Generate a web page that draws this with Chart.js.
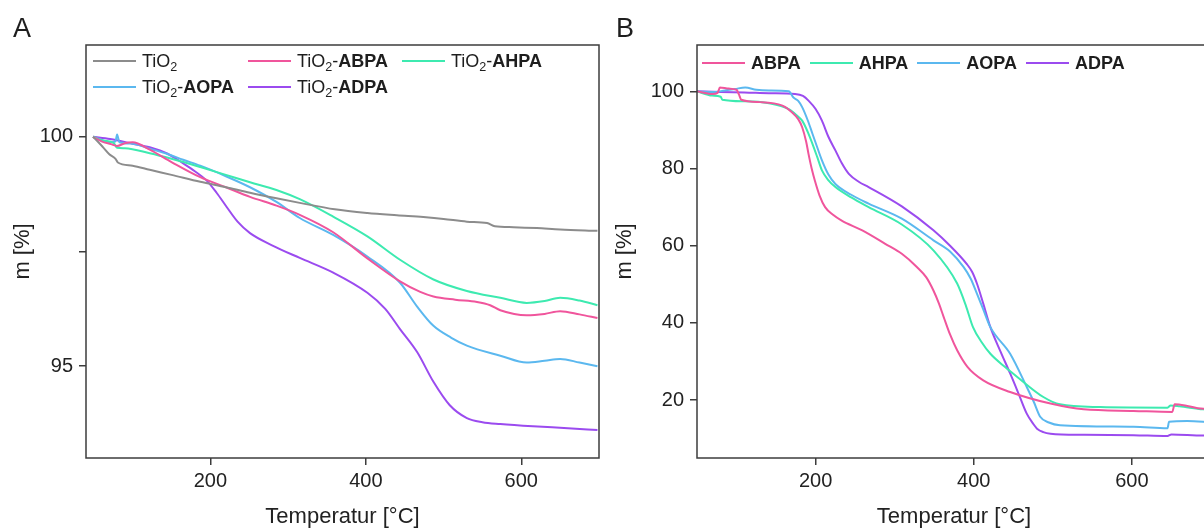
<!DOCTYPE html>
<html>
<head>
<meta charset="utf-8">
<title>TGA TiO2 Phosphonsäuren</title>
<script src="https://cdn.jsdelivr.net/npm/chart.js@4.4.1/dist/chart.umd.min.js"></script>
<style>
  body { margin: 0; width: 1204px; height: 532px; overflow: hidden; position: relative; background: #fff;
         font-family: "Liberation Sans", Arial, sans-serif; color: #1e1e1e; }
  .panel { position: absolute; top: 0; height: 532px; }
  #panelA { left: 0; width: 602px; }
  #panelB { left: 602px; width: 612px; }
  .letter { position: absolute; top: 15px; font-size: 27px; line-height: 27px; }
  .legend-row { position: absolute; height: 22px; display: flex; align-items: center; font-size: 18px; white-space: nowrap; }
  .item { display: flex; align-items: center; }
  .swatch { width: 43px; height: 2px; margin-right: 6px; }
  .txt { display: inline-block; line-height: 22px; }
  sub { font-size: 0.7em; vertical-align: -0.3em; line-height: 0; }
</style>
</head>
<body>
<div class="panel" id="panelA"><canvas id="chartA" width="602" height="532"></canvas></div>
<div class="panel" id="panelB"><canvas id="chartB" width="612" height="532"></canvas></div>
<div class="letter" style="left:13px">A</div>
<div class="letter" style="left:616px">B</div>
<div id="legendA"></div>
<div id="legendB"></div>

<script>
// ---- data: panel A (TiO2 + modified) ----
const tio2_T = [49, 56, 62, 70, 78, 81, 100, 122, 150, 187, 220, 251, 285, 315, 360, 402, 440, 474, 500, 530, 556, 566, 590, 620, 650, 698];
const tio2_m = [100, 99.88, 99.77, 99.62, 99.52, 99.44, 99.37, 99.28, 99.17, 99.02, 98.90, 98.78, 98.66, 98.56, 98.42, 98.34, 98.29, 98.25, 98.21, 98.15, 98.12, 98.05, 98.03, 98.01, 97.98, 97.95];

const abpaA_T = [49, 60, 72, 80, 90, 100, 122, 150, 187, 220, 251, 285, 315, 358, 402, 444, 470, 487, 515, 543, 560, 573, 607, 630, 650, 675, 698];
const abpaA_m = [100, 99.90, 99.84, 99.80, 99.86, 99.88, 99.72, 99.45, 99.12, 98.90, 98.69, 98.50, 98.30, 97.92, 97.35, 96.85, 96.62, 96.52, 96.45, 96.40, 96.33, 96.22, 96.11, 96.14, 96.20, 96.13, 96.05];

const ahpaA_T = [49, 62, 76, 80, 90, 122, 150, 187, 220, 251, 285, 315, 358, 402, 444, 487, 530, 573, 607, 630, 650, 675, 698];
const ahpaA_m = [100, 99.92, 99.86, 99.76, 99.75, 99.64, 99.52, 99.34, 99.17, 99.01, 98.84, 98.64, 98.26, 97.83, 97.32, 96.89, 96.64, 96.49, 96.38, 96.42, 96.49, 96.43, 96.33];

const aopaA_T = [49, 60, 72, 78, 80, 83, 100, 122, 144, 165, 187, 220, 251, 285, 315, 358, 402, 444, 466, 487, 510, 530, 573, 607, 630, 650, 675, 698];
const aopaA_m = [100, 99.93, 99.88, 99.90, 100.05, 99.88, 99.85, 99.74, 99.63, 99.50, 99.37, 99.14, 98.90, 98.58, 98.23, 97.86, 97.39, 96.82, 96.30, 95.88, 95.62, 95.45, 95.23, 95.08, 95.12, 95.16, 95.08, 95.00];

const adpaA_T = [49, 71, 100, 122, 145, 165, 180, 195, 208, 221, 235, 251, 280, 315, 358, 402, 425, 444, 466, 487, 508, 530, 550, 573, 615, 660, 698];
const adpaA_m = [100, 99.95, 99.85, 99.77, 99.63, 99.42, 99.25, 99.05, 98.78, 98.47, 98.15, 97.90, 97.63, 97.36, 97.04, 96.60, 96.25, 95.81, 95.31, 94.66, 94.15, 93.87, 93.78, 93.74, 93.69, 93.65, 93.61];

// ---- data: panel B (pure acids) ----
const abpaB_T = [50, 62, 70, 76, 79, 90, 100, 103, 106, 130, 158, 170, 178, 183, 188, 191, 195, 199, 205, 212, 222, 233, 259, 288, 309, 328, 340, 349, 356, 362, 370, 379, 392, 412, 446, 497, 539, 602, 651, 654, 670, 687, 700];
const abpaB_m = [100, 99.5, 99.3, 99.6, 101, 100.7, 100.4, 99.2, 97.8, 97.2, 96.3, 94.6, 92.8, 90.7, 87, 83.8, 80, 76.9, 73, 70.0, 68, 66.5, 63.96, 60.5, 57.9, 54.5, 51.8, 48.4, 45, 41.5, 37, 32.9, 28.6, 25.1, 22.1, 19.1, 17.6, 17.2, 16.95, 18.9, 18.5, 17.8, 17.6];

const ahpaB_T = [50, 69, 80, 82, 110, 141, 166, 176, 183, 190, 196, 202, 208, 216, 225, 245, 267, 309, 349, 379, 390, 399, 410, 421, 440, 455, 488, 509, 560, 645, 649, 660, 690, 700];
const ahpaB_m = [100, 98.9, 98.6, 97.8, 97.4, 96.9, 95.4, 93.8, 92.4, 89.5, 86.4, 83, 79.5, 77, 75.2, 72.5, 70.0, 65.5, 58.8, 50.2, 44.5, 38.9, 35, 32.0, 28.5, 26.0, 20.8, 18.9, 18.2, 18.05, 18.6, 18.4, 17.6, 17.5];

const aopaB_T = [50, 70, 85, 98, 111, 125, 141, 166, 172, 178, 183, 190, 196, 202, 208, 216, 225, 245, 267, 309, 349, 370, 387, 396, 404, 412, 421, 446, 467, 476, 484, 495, 509, 602, 645, 647, 670, 690, 700];
const aopaB_m = [100, 99.8, 100.2, 100.6, 101, 100.4, 100.2, 100, 98.4, 97.5, 95.9, 92.5, 89.0, 85.5, 82.1, 78.5, 76.0, 73.2, 70.9, 67.0, 61.4, 58.5, 54.5, 51.5, 47.6, 43.5, 38.9, 32.0, 23.4, 19.5, 15.7, 14.2, 13.5, 13.1, 12.7, 14.4, 14.6, 14.4, 14.2];

const adpaB_T = [50, 80, 110, 141, 174, 184, 191, 200, 208, 216, 225, 233, 242, 255, 267, 309, 349, 370, 391, 398, 404, 412, 421, 434, 446, 457, 467, 475, 480, 488, 497, 540, 602, 645, 650, 690, 700];
const adpaB_m = [100, 99.8, 99.7, 99.5, 99.3, 98.8, 97.6, 95.4, 92.4, 88.3, 84.7, 81.4, 78.6, 76.5, 75.2, 70.2, 64.0, 60.0, 55.3, 53.2, 50.2, 45.0, 38.9, 32.5, 26.9, 21.5, 16.5, 13.9, 12.6, 11.7, 11.3, 11.0, 10.9, 10.7, 11.1, 10.8, 10.8];

// ---- axis ticks ----
const xTicks = [200, 400, 600];
const yTicksA = [95, 97.5, 100];
const yTickLabelsA = ['95', '', '100'];
const yTicksB = [20, 40, 60, 80, 100];
const yTickLabelsB = ['20', '40', '60', '80', '100'];

const namesA = ['TiO2', 'TiO2-ABPA', 'TiO2-AHPA', 'TiO2-AOPA', 'TiO2-ADPA'];
const namesB = ['ABPA', 'AHPA', 'AOPA', 'ADPA'];

const GREY = '#8c8c8c', PINK = '#f0559c', MINT = '#3deab0', BLUE = '#5bb8ef', PURPLE = '#9b4bef';
const FONT = '"Liberation Sans", Arial, sans-serif';
const AXIS = '#3c3c3c';

function series(label, T, m, color) {
    return {
        label: label,
        data: T.map((t, i) => ({ x: t, y: m[i] })),
        borderColor: color,
        backgroundColor: color,
        borderWidth: 2,
        pointRadius: 0,
        cubicInterpolationMode: 'monotone',
        fill: false
    };
}

// box around plot area
const framePlugin = {
    id: 'frame',
    afterDraw(chart) {
        const { ctx, chartArea: a } = chart;
        ctx.save();
        ctx.strokeStyle = AXIS;
        ctx.lineWidth = 1.5;
        ctx.strokeRect(a.left, a.top, a.right - a.left, a.bottom - a.top);
        ctx.restore();
    }
};

function makeChart(id, datasets, xMin, xMax, yMin, yMax, yTicks, yLabels, yWidth, padRight) {
    const gridOpts = { drawOnChartArea: false, drawTicks: true, tickLength: 7, tickColor: AXIS, lineWidth: 1.5 };
    return new Chart(document.getElementById(id), {
        type: 'line',
        data: { datasets: datasets },
        options: {
            responsive: false,
            animation: false,
            layout: { padding: { top: 45, right: padRight, left: 0, bottom: 0 } },
            plugins: { legend: { display: false }, tooltip: { enabled: false } },
            scales: {
                x: {
                    type: 'linear', min: xMin, max: xMax,
                    afterBuildTicks: s => { s.ticks = xTicks.map(v => ({ value: v })); },
                    afterFit: s => { s.height = 74; },
                    grid: gridOpts,
                    border: { display: false },
                    ticks: { color: '#222', font: { size: 20, family: FONT }, padding: 4, maxRotation: 0, autoSkip: false },
                    title: { display: true, text: 'Temperatur [°C]', color: '#222', font: { size: 22, family: FONT }, padding: { top: 0, bottom: 2 } }
                },
                y: {
                    type: 'linear', min: yMin, max: yMax,
                    afterBuildTicks: s => { s.ticks = yTicks.map(v => ({ value: v })); },
                    afterFit: s => { s.width = yWidth; },
                    grid: gridOpts,
                    border: { display: false },
                    ticks: { color: '#222', font: { size: 20, family: FONT }, padding: 6, autoSkip: false,
                             callback: (v, i) => yLabels[i] },
                    title: { display: true, text: 'm [%]', color: '#222', font: { size: 22, family: FONT }, padding: { top: 10, bottom: 0 } }
                }
            }
        },
        plugins: [framePlugin]
    });
}

const chartA = makeChart('chartA', [
    series(namesA[0], tio2_T, tio2_m, GREY),
    series(namesA[1], abpaA_T, abpaA_m, PINK),
    series(namesA[2], ahpaA_T, ahpaA_m, MINT),
    series(namesA[3], aopaA_T, aopaA_m, BLUE),
    series(namesA[4], adpaA_T, adpaA_m, PURPLE)
], 40, 700, 93, 102, yTicksA, yTickLabelsA, 86, 3);

const chartB = makeChart('chartB', [
    series(namesB[0], abpaB_T, abpaB_m, PINK),
    series(namesB[1], ahpaB_T, ahpaB_m, MINT),
    series(namesB[2], aopaB_T, aopaB_m, BLUE),
    series(namesB[3], adpaB_T, adpaB_m, PURPLE)
], 50, 700, 5, 112, yTicksB, yTickLabelsB, 95, 3);

// ---- legends (HTML so sub/bold render as real text) ----
function fmt(name) {
    const parts = name.split('-');
    const base = parts[0].replace('TiO2', 'TiO<sub>2</sub>');
    if (parts.length === 1) return parts[0].startsWith('TiO') ? base : '<b>' + base + '</b>';
    return base + '-<b>' + parts[1] + '</b>';
}
function itemHtml(ds, extraStyle) {
    return '<span class="item" style="' + (extraStyle || '') + '"><span class="swatch" style="background:' + ds.borderColor + '"></span>' +
        '<span class="txt">' + fmt(ds.label) + '</span></span>';
}

// panel A: 3 columns, 2 rows
const colsA = [93, 248, 402];
const rowsA = [61, 87];
let htmlA = '';
chartA.data.datasets.forEach((ds, i) => {
    const r = Math.floor(i / 3), c = i % 3;
    htmlA += '<div class="legend-row" style="left:' + colsA[c] + 'px;top:' + (rowsA[r] - 11) + 'px">' + itemHtml(ds) + '</div>';
});
document.getElementById('legendA').innerHTML = htmlA;

// panel B: single row
let htmlB = '<div class="legend-row" style="left:702px;top:52px">';
chartB.data.datasets.forEach(ds => {
    htmlB += itemHtml(ds, 'margin-right:9px');
});
htmlB += '</div>';
document.getElementById('legendB').innerHTML = htmlB;
</script>
</body>
</html>
